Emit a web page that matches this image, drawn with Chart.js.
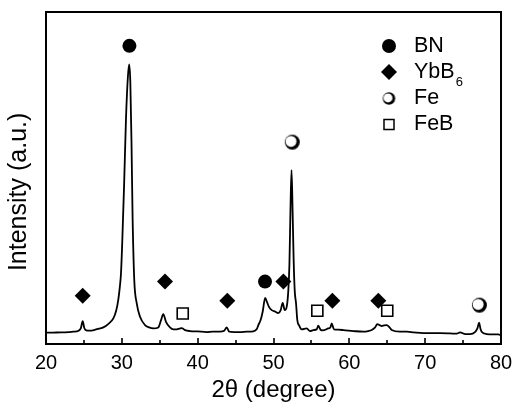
<!DOCTYPE html>
<html>
<head>
<meta charset="utf-8">
<script src="https://cdn.jsdelivr.net/npm/chart.js@4"></script>
<style>
  html, body { margin: 0; padding: 0; background: #fff; }
  #wrap { width: 513px; height: 405px; }
</style>
</head>
<body>
<div id="wrap"><canvas id="myChart" width="513" height="405"></canvas></div>
<script>
// XRD pattern (2theta in degree, intensity in a.u. on a 0-100 scale)
const twoTheta = [20.0, 21.0, 22.0, 23.0, 23.6, 24.3, 24.6, 24.84, 25.05, 25.3, 25.8, 26.5, 27.0, 27.56, 28.2, 28.88, 29.25, 29.53, 29.75, 29.89,
  30.06, 30.3, 30.55, 30.8, 30.97, 31.12, 31.28, 31.42, 31.64, 31.96, 32.4, 33.06, 33.6, 34.15, 34.81, 35.17, 35.47, 35.82, 36.35, 36.79,
  37.24, 37.6, 37.9, 38.33, 38.99, 40.0, 41.19, 42.0, 42.95, 43.5, 43.83, 44.17, 44.8, 45.58, 46.5, 47.34, 47.8, 48.0, 48.3, 48.58,
  48.9, 49.15, 49.4, 49.77, 50.2, 50.63, 50.95, 51.21, 51.48, 51.74, 51.95, 52.1, 52.25, 52.38, 52.52, 52.65, 52.8, 52.97, 53.14, 53.4,
  53.72, 54.38, 54.81, 55.25, 55.7, 55.91, 56.2, 56.5, 57.23, 57.5, 57.68, 57.98, 58.5, 59.21, 60.53, 61.84, 62.5, 62.95, 63.4, 63.69,
  64.0, 64.27, 64.6, 64.93, 65.3, 65.59, 66.68, 67.57, 68.5, 69.76, 70.8, 71.96, 73.28, 74.16, 74.6, 75.3, 75.91, 76.57, 76.9, 77.1,
  77.3, 77.45, 78.1, 79.0, 79.65, 80.0];
const intensity = [3.4, 3.45, 3.5, 3.6, 3.7, 4.0, 4.8, 6.9, 4.8, 4.1, 4.0, 4.3, 4.6, 5.0, 6.0, 7.7, 10.0, 13.3, 17.5, 21.3,
  31.0, 48, 68, 80.5, 84.2, 79, 60, 38, 19.3, 12.3, 8.2, 5.7, 5.0, 4.7, 5.0, 7.2, 9.0, 6.7, 5.0, 4.4,
  4.4, 4.6, 4.8, 4.2, 3.9, 3.8, 3.6, 3.7, 3.7, 4.0, 5.0, 3.7, 3.6, 3.6, 3.7, 3.8, 4.5, 5.7, 7.2, 9.8,
  13.9, 12.6, 11.2, 10.2, 9.8, 9.3, 10.2, 12.4, 10.2, 11.2, 16, 24, 42, 52.4, 40, 26, 16, 12.3, 7.2, 5.5,
  4.4, 4.7, 3.9, 4.2, 4.4, 5.5, 4.3, 4.1, 4.7, 5.0, 6.2, 4.4, 4.3, 4.2, 3.9, 3.7, 3.9, 4.2, 5.0, 6.0,
  5.7, 5.4, 5.6, 5.7, 5.0, 4.2, 3.7, 3.7, 3.5, 3.3, 3.3, 3.3, 3.2, 3.1, 3.5, 3.0, 3.0, 3.6, 4.8, 6.4,
  4.5, 3.7, 3.0, 2.9, 2.9, 2.6];

// phase markers
const bnAngle = [31.0, 48.88];
const bnLevel = [89.8, 18.8];
const ybAngle = [24.84, 35.69, 43.91, 51.3, 57.76, 63.82];
const ybLevel = [14.5, 18.8, 13.0, 18.8, 13.0, 13.0];
const feAngle = [52.48, 77.15];
const feLevel = [60.8, 11.7];
const febAngle = [38.03, 55.78, 65.0];
const febLevel = [9.2, 10.0, 10.0];

const xTicks = [20, 30, 40, 50, 60, 70, 80];
const xMinorTicks = [25, 35, 45, 55, 65, 75];

function pts(xs, ys) {
  return xs.map(function (x, i) { return { x: x, y: ys[i] }; });
}

// half filled circle used for Fe
function feSymbol(r, inner, off) {
  var s = Math.ceil(r * 2 + 2);
  var c = document.createElement("canvas");
  c.width = s; c.height = s;
  var g = c.getContext("2d");
  g.fillStyle = "#000";
  g.beginPath(); g.arc(s / 2, s / 2, r, 0, Math.PI * 2); g.fill();
  g.fillStyle = "#fff";
  g.beginPath(); g.arc(s / 2 - off, s / 2 - off * 0.6, inner, 0, Math.PI * 2); g.fill();
  return c;
}
var feBig = feSymbol(7.5, 5.5, 1.3);
var feSmall = feSymbol(6.2, 4.5, 1.0);

var FONT = "'Liberation Sans', Arial, sans-serif";

// frame + inward ticks
var framePlugin = {
  id: "frame",
  afterDraw: function (chart) {
    var a = chart.chartArea, ctx = chart.ctx, xs = chart.scales.x;
    ctx.save();
    ctx.strokeStyle = "#000";
    ctx.lineWidth = 2;
    ctx.strokeRect(a.left, a.top, a.right - a.left, a.bottom - a.top);
    ctx.lineWidth = 1.6;
    ctx.beginPath();
    xTicks.forEach(function (v) {
      var px = Math.round(xs.getPixelForValue(v));
      ctx.moveTo(px, a.bottom); ctx.lineTo(px, a.bottom - 6);
    });
    xMinorTicks.forEach(function (v) {
      var px = Math.round(xs.getPixelForValue(v));
      ctx.moveTo(px, a.bottom); ctx.lineTo(px, a.bottom - 4);
    });
    ctx.stroke();
    ctx.restore();
  }
};

// legend with subscript
var legendPlugin = {
  id: "phaseLegend",
  afterDraw: function (chart) {
    var ctx = chart.ctx;
    var sx = 389, tx = 414;
    var rows = [46, 72, 98.5, 124.5];
    ctx.save();
    ctx.fillStyle = "#000";
    ctx.strokeStyle = "#000";
    // BN
    ctx.beginPath(); ctx.arc(sx, rows[0], 7, 0, Math.PI * 2); ctx.fill();
    // YbB6
    ctx.beginPath();
    ctx.moveTo(sx - 8, rows[1]); ctx.lineTo(sx, rows[1] - 8); ctx.lineTo(sx + 8, rows[1]); ctx.lineTo(sx, rows[1] + 8);
    ctx.closePath(); ctx.fill();
    // Fe
    ctx.drawImage(feSmall, sx - feSmall.width / 2, rows[2] - feSmall.height / 2);
    // FeB
    ctx.lineWidth = 1.5;
    ctx.strokeRect(sx - 5, rows[3] - 5, 10, 10);

    ctx.font = "21.5px " + FONT;
    ctx.textBaseline = "middle";
    ctx.textAlign = "left";
    ctx.fillText("BN", tx, rows[0]);
    ctx.fillText("YbB", tx, rows[1]);
    var w = ctx.measureText("YbB").width;
    ctx.font = "13px " + FONT;
    ctx.fillText("6", tx + w + 1, rows[1] + 10);
    ctx.font = "21.5px " + FONT;
    ctx.fillText("Fe", tx, rows[2]);
    ctx.fillText("FeB", tx, rows[3]);
    ctx.restore();
  }
};

var ctx = document.getElementById("myChart");
var myChart = new Chart(ctx, {
  type: "scatter",
  data: {
    datasets: [
      {
        label: "XRD",
        data: pts(twoTheta, intensity),
        showLine: true,
        borderColor: "#000",
        borderWidth: 1.8,
        pointRadius: 0,
        cubicInterpolationMode: "monotone",
        order: 5
      },
      {
        label: "BN",
        data: pts(bnAngle, bnLevel),
        pointStyle: "circle",
        pointRadius: 7,
        backgroundColor: "#000",
        borderColor: "#000",
        borderWidth: 0,
        order: 1
      },
      {
        label: "YbB6",
        data: pts(ybAngle, ybLevel),
        pointStyle: "rectRot",
        pointRadius: 8,
        backgroundColor: "#000",
        borderColor: "#000",
        borderWidth: 0,
        order: 1
      },
      {
        label: "Fe",
        data: pts(feAngle, feLevel),
        pointStyle: feBig,
        pointRadius: 8,
        order: 1
      },
      {
        label: "FeB",
        data: pts(febAngle, febLevel),
        pointStyle: "rect",
        pointRadius: 7.8,
        backgroundColor: "#fff",
        borderColor: "#000",
        borderWidth: 1.6,
        order: 1
      }
    ]
  },
  options: {
    responsive: false,
    animation: false,
    layout: { padding: { top: 12, right: 12, left: 0, bottom: 0 }, autoPadding: false },
    plugins: { legend: { display: false }, tooltip: { enabled: false } },
    scales: {
      x: {
        type: "linear",
        min: 20,
        max: 80,
        afterBuildTicks: function (scale) {
          scale.ticks = xTicks.map(function (v) { return { value: v }; });
        },
        afterFit: function (scale) {
          scale.height = 61;
          scale.paddingLeft = 0;
          scale.paddingRight = 0;
        },
        grid: { display: false, drawTicks: false },
        border: { display: false },
        ticks: { color: "#000", font: { family: FONT, size: 20 }, padding: 7, maxRotation: 0 },
        title: {
          display: true,
          text: "2θ (degree)",
          color: "#000",
          font: { family: FONT, size: 24 },
          padding: { top: 0, bottom: 0 }
        }
      },
      y: {
        min: 0,
        max: 100,
        afterFit: function (scale) { scale.width = 46; },
        grid: { display: false, drawTicks: false },
        border: { display: false },
        ticks: { display: false },
        title: {
          display: true,
          // trailing spaces push the centred title a little lower, as in the original
          text: "Intensity (a.u.)    ",
          color: "#000",
          font: { family: FONT, size: 25 },
          padding: { top: 4, bottom: 0 }
        }
      }
    }
  },
  plugins: [framePlugin, legendPlugin]
});
</script>
</body>
</html>
